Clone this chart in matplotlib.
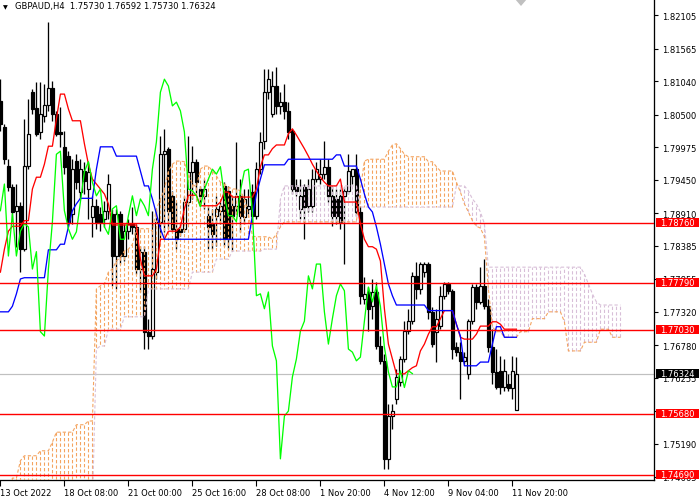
import matplotlib
matplotlib.use("Agg")
import matplotlib.pyplot as plt
import matplotlib.transforms as mtransforms
from matplotlib.patches import Rectangle, Polygon
from matplotlib.collections import LineCollection

# GBPAUD H4 candles (bar 0 = left edge of the chart)
opens = [1.8072, 1.8030, 1.7967, 1.7933, 1.7895, 1.7903, 1.7833, 1.7967, 1.8086, 1.8061,
         1.8022, 1.8048, 1.8065, 1.8093, 1.8051, 1.8022, 1.7998, 1.7983, 1.7890, 1.7975,
         1.7925, 1.7959, 1.7930, 1.7885, 1.7903, 1.7890, 1.7882, 1.7895, 1.7890, 1.7822,
         1.7890, 1.7822, 1.7862, 1.7874, 1.7869, 1.7801, 1.7829, 1.7700, 1.7693, 1.7796,
         1.7877, 1.7986, 1.7995, 1.7919, 1.7866, 1.7866, 1.7866, 1.7909, 1.7958, 1.7974,
         1.7930, 1.7919, 1.7887, 1.7874, 1.7887, 1.7895, 1.7935, 1.7927, 1.7903, 1.7903,
         1.7919, 1.7885, 1.7898, 1.7925, 1.7887, 1.7962, 1.8007, 1.8086, 1.8051, 1.8096,
         1.8064, 1.8070, 1.8056, 1.8024, 1.7933, 1.7898, 1.7933, 1.7903, 1.7903, 1.7946,
         1.7946, 1.7954, 1.7966, 1.7919, 1.7914, 1.7919, 1.7919, 1.7927, 1.7951, 1.7962,
         1.7893, 1.7753, 1.7764, 1.7741, 1.7764, 1.7677, 1.7653, 1.7495, 1.7564, 1.7592,
         1.7619, 1.7656, 1.7701, 1.7717, 1.7790, 1.7769, 1.7796, 1.7809, 1.7732, 1.7700,
         1.7709, 1.7758, 1.7777, 1.7766, 1.7675, 1.7667, 1.7653, 1.7632, 1.7717, 1.7772,
         1.7748, 1.7774, 1.7741, 1.7675, 1.7635, 1.7637, 1.7611, 1.7616, 1.7610, 1.75730]
highs = [1.8107, 1.8035, 1.7978, 1.7938, 1.7938, 1.7909, 1.8043, 1.8075, 1.8091, 1.8103,
         1.8103, 1.8099, 1.8199, 1.8104, 1.8056, 1.8062, 1.8024, 1.7991, 1.7978, 1.7986,
         1.7978, 1.7974, 1.7974, 1.7919, 1.7914, 1.7901, 1.7911, 1.7954, 1.7898, 1.7898,
         1.7895, 1.7874, 1.7882, 1.7901, 1.7874, 1.7838, 1.7838, 1.7721, 1.7895, 1.7898,
         1.8015, 1.8027, 1.7998, 1.7927, 1.7909, 1.7874, 1.7919, 1.8015, 1.7999, 1.7978,
         1.7935, 1.7946, 1.7903, 1.7898, 1.7919, 1.7909, 1.7941, 1.7935, 1.7919, 1.8006,
         1.7946, 1.7930, 1.7930, 1.7938, 1.7974, 1.8022, 1.8124, 1.8124, 1.8120, 1.8127,
         1.8086, 1.8099, 1.8070, 1.8027, 1.7946, 1.7946, 1.7938, 1.7946, 1.7962, 1.7974,
         1.7978, 1.8007, 1.7978, 1.7935, 1.7930, 1.7930, 1.7933, 1.7986, 1.7962, 1.7986,
         1.7903, 1.7788, 1.7772, 1.7785, 1.7780, 1.7693, 1.7664, 1.7583, 1.7583, 1.7640,
         1.7661, 1.7717, 1.7737, 1.7796, 1.7812, 1.7812, 1.7812, 1.7812, 1.7740, 1.7737,
         1.7774, 1.7780, 1.7780, 1.7769, 1.7683, 1.7683, 1.7667, 1.7721, 1.7777, 1.7777,
         1.7804, 1.7817, 1.7753, 1.7704, 1.7672, 1.7661, 1.7656, 1.7632, 1.7661, 1.76592]
lows = [1.8024, 1.7970, 1.7927, 1.7879, 1.7837, 1.7796, 1.7830, 1.7962, 1.8051, 1.8015,
        1.8011, 1.8038, 1.8056, 1.8040, 1.8015, 1.7998, 1.7954, 1.7869, 1.7874, 1.7930,
        1.7914, 1.7922, 1.7882, 1.7853, 1.7866, 1.7862, 1.7869, 1.7882, 1.7774, 1.7769,
        1.7809, 1.7814, 1.7849, 1.7857, 1.7793, 1.7764, 1.7672, 1.7672, 1.7688, 1.7785,
        1.7849, 1.7861, 1.7866, 1.7861, 1.7833, 1.7854, 1.7861, 1.7903, 1.7914, 1.7922,
        1.7906, 1.7898, 1.7833, 1.7833, 1.7838, 1.7874, 1.7838, 1.7833, 1.7830, 1.7890,
        1.7861, 1.7874, 1.7890, 1.7874, 1.7882, 1.7954, 1.7995, 1.8075, 1.8046, 1.8051,
        1.8051, 1.8043, 1.8011, 1.7922, 1.7919, 1.7882, 1.7849, 1.7893, 1.7893, 1.7941,
        1.7938, 1.7946, 1.7909, 1.7870, 1.7874, 1.7866, 1.7809, 1.7922, 1.7938, 1.7887,
        1.7745, 1.7745, 1.7701, 1.7721, 1.7672, 1.7648, 1.7479, 1.7479, 1.7543, 1.7583,
        1.7612, 1.7651, 1.7696, 1.7712, 1.7753, 1.7761, 1.7788, 1.7721, 1.7675, 1.7651,
        1.7704, 1.7753, 1.7761, 1.7656, 1.7661, 1.7592, 1.7648, 1.7624, 1.7712, 1.7737,
        1.7745, 1.7737, 1.7668, 1.7616, 1.7608, 1.7600, 1.7604, 1.7604, 1.7592, 1.75730]
closes = [1.8035, 1.7978, 1.7933, 1.7893, 1.7903, 1.7833, 1.7967, 1.8019, 1.8059, 1.8019,
          1.8051, 1.8065, 1.8093, 1.8051, 1.8019, 1.8019, 1.7966, 1.7877, 1.7962, 1.7941,
          1.7962, 1.7943, 1.7958, 1.7903, 1.7877, 1.7877, 1.7895, 1.7938, 1.7822, 1.7890,
          1.7822, 1.7862, 1.7874, 1.7869, 1.7801, 1.7829, 1.7700, 1.7693, 1.7801, 1.7877,
          1.7986, 1.7991, 1.7895, 1.7866, 1.7849, 1.7861, 1.7909, 1.7958, 1.7974, 1.7941,
          1.7919, 1.7930, 1.7869, 1.7857, 1.7898, 1.7903, 1.7849, 1.7849, 1.7887, 1.7919,
          1.7887, 1.7914, 1.7903, 1.7887, 1.7962, 1.8006, 1.8086, 1.8107, 1.8096, 1.8064,
          1.8070, 1.8056, 1.8022, 1.7930, 1.7927, 1.7919, 1.7901, 1.7930, 1.7946, 1.7962,
          1.7954, 1.7966, 1.7919, 1.7887, 1.7887, 1.7877, 1.7927, 1.7959, 1.7962, 1.7893,
          1.7758, 1.7761, 1.7737, 1.7764, 1.7677, 1.7653, 1.7495, 1.7564, 1.7572, 1.7627,
          1.7656, 1.7701, 1.7717, 1.7790, 1.7769, 1.7809, 1.7809, 1.7732, 1.7680, 1.7721,
          1.7758, 1.7777, 1.7766, 1.7672, 1.7667, 1.7653, 1.7659, 1.7717, 1.7772, 1.7748,
          1.7774, 1.7741, 1.7675, 1.7635, 1.7611, 1.7611, 1.7637, 1.7610, 1.7637, 1.76324]

# Ichimoku lines as shown on the chart
tenkan = [1.7796, 1.7833, 1.7862, 1.7870, 1.7870, 1.7870, 1.7879, 1.7879, 1.7930, 1.7949,
          1.7949, 1.7970, 1.7999, 1.7999, 1.8043, 1.8083, 1.8083, 1.8059, 1.8040, 1.8040,
          1.8040, 1.8003, 1.7970, 1.7946, 1.7938, 1.7930, 1.7922, 1.7906, 1.7872, 1.7872,
          1.7872, 1.7872, 1.7872, 1.7872, 1.7872, 1.7817, 1.7790, 1.7790, 1.7790, 1.7801,
          1.7849, 1.7849, 1.7862, 1.7862, 1.7862, 1.7869, 1.7898, 1.7920, 1.7920, 1.7920,
          1.7903, 1.7903, 1.7903, 1.7903, 1.7903, 1.7909, 1.7925, 1.7925, 1.7917, 1.7917,
          1.7917, 1.7917, 1.7917, 1.7917, 1.7930, 1.7966, 1.7985, 1.7985, 1.7995, 1.8001,
          1.8001, 1.8001, 1.8019, 1.8027, 1.8017, 1.8006, 1.7995, 1.7983, 1.7970, 1.7959,
          1.7949, 1.7941, 1.7935, 1.7935, 1.7935, 1.7946, 1.7909, 1.7909, 1.7909, 1.7909,
          1.7874, 1.7849, 1.7837, 1.7837, 1.7833, 1.7814, 1.7737, 1.7680, 1.7656, 1.7632,
          1.7632, 1.7632, 1.7637, 1.7642, 1.7645, 1.7669, 1.7680, 1.7696, 1.7708, 1.7708,
          1.7721, 1.7734, 1.7734, 1.7734, 1.7712, 1.7691, 1.7688, 1.7688, 1.7688, 1.7696,
          1.7709, 1.7709, 1.7709, 1.7716, 1.7716, 1.7712, 1.7704, 1.7704, 1.7704, 1.7704]
kijun = [1.7732, 1.7732, 1.7732, 1.7741, 1.7761, 1.7785, 1.7787, 1.7787, 1.7787, 1.7787,
         1.7787, 1.7787, 1.7832, 1.7832, 1.7832, 1.7841, 1.7841, 1.7869, 1.7895, 1.7906,
         1.7915, 1.7915, 1.7915, 1.7915, 1.7962, 1.7998, 1.7998, 1.7998, 1.7998, 1.7983,
         1.7983, 1.7983, 1.7983, 1.7983, 1.7983, 1.7959, 1.7935, 1.7935, 1.7914, 1.7890,
         1.7866, 1.7849, 1.7849, 1.7849, 1.7849, 1.7849, 1.7849, 1.7849, 1.7849, 1.7849,
         1.7849, 1.7849, 1.7849, 1.7849, 1.7849, 1.7849, 1.7849, 1.7849, 1.7849, 1.7849,
         1.7849, 1.7849, 1.7849, 1.7887, 1.7922, 1.7946, 1.7969, 1.7969, 1.7969, 1.7969,
         1.7969, 1.7969, 1.7978, 1.7978, 1.7978, 1.7978, 1.7978, 1.7978, 1.7978, 1.7978,
         1.7978, 1.7978, 1.7978, 1.7978, 1.7985, 1.7985, 1.7967, 1.7967, 1.7967, 1.7967,
         1.7946, 1.7922, 1.7901, 1.7893, 1.7869, 1.7841, 1.7809, 1.7777, 1.7758, 1.7743,
         1.7743, 1.7743, 1.7743, 1.7743, 1.7743, 1.7743, 1.7743, 1.7734, 1.7734, 1.7734,
         1.7734, 1.7734, 1.7734, 1.7734, 1.7712, 1.7693, 1.7645, 1.7645, 1.7645, 1.7645,
         1.7651, 1.7651, 1.7651, 1.7680, 1.7708, 1.7708, 1.7691, 1.7691, 1.7691, 1.7691]
# senkou spans run 26 bars past the last candle
span_a = [1.7440, 1.7440, 1.7440, 1.7464, 1.7464, 1.7492, 1.7500, 1.7500, 1.7500, 1.7500,
          1.7508, 1.7508, 1.7508, 1.7522, 1.7538, 1.7538, 1.7538, 1.7538, 1.7538, 1.7550,
          1.7550, 1.7550, 1.7556, 1.7556, 1.7769, 1.7774, 1.7777, 1.7796, 1.7801, 1.7814,
          1.7820, 1.7830, 1.7833, 1.7841, 1.7866, 1.7866, 1.7866, 1.7866, 1.7862, 1.7898,
          1.7914, 1.7930, 1.7959, 1.7970, 1.7975, 1.7975, 1.7974, 1.7954, 1.7938, 1.7933,
          1.7962, 1.7967, 1.7967, 1.7959, 1.7951, 1.7941, 1.7938, 1.7933, 1.7930, 1.7930,
          1.7927, 1.7914, 1.7890, 1.7854, 1.7853, 1.7853, 1.7853, 1.7853, 1.7849, 1.7857,
          1.7869, 1.7877, 1.7877, 1.7877, 1.7877, 1.7877, 1.7877, 1.7877, 1.7877, 1.7877,
          1.7877, 1.7877, 1.7877, 1.7877, 1.7877, 1.7877, 1.7877, 1.7877, 1.7877, 1.7877,
          1.7930, 1.7975, 1.7978, 1.7978, 1.7978, 1.7978, 1.7978, 1.7991, 1.8001, 1.8003,
          1.7995, 1.7986, 1.7982, 1.7982, 1.7982, 1.7982, 1.7982, 1.7974, 1.7974, 1.7966,
          1.7959, 1.7959, 1.7959, 1.7959, 1.7941, 1.7925, 1.7906, 1.7893, 1.7879, 1.7870,
          1.7867, 1.7853, 1.7769, 1.7708, 1.7700, 1.7700, 1.7691, 1.7691, 1.7691, 1.7691,
          1.7700, 1.7700, 1.7700, 1.7721, 1.7721, 1.7721, 1.7721, 1.7732, 1.7732, 1.7732,
          1.7732, 1.7716, 1.7669, 1.7669, 1.7669, 1.7669, 1.7683, 1.7683, 1.7683, 1.7683,
          1.7704, 1.7704, 1.7704, 1.7691, 1.7691, 1.7691]
span_b = [1.7420, 1.7420, 1.7420, 1.7420, 1.7420, 1.7420, 1.7420, 1.7420, 1.7420, 1.7420,
          1.7420, 1.7420, 1.7420, 1.7420, 1.7420, 1.7420, 1.7420, 1.7420, 1.7420, 1.7420,
          1.7420, 1.7420, 1.7420, 1.7420, 1.7672, 1.7677, 1.7677, 1.7704, 1.7704, 1.7704,
          1.7704, 1.7724, 1.7724, 1.7724, 1.7724, 1.7724, 1.7724, 1.7769, 1.7769, 1.7769,
          1.7769, 1.7769, 1.7769, 1.7769, 1.7769, 1.7769, 1.7769, 1.7769, 1.7796, 1.7796,
          1.7796, 1.7796, 1.7796, 1.7796, 1.7817, 1.7817, 1.7817, 1.7817, 1.7830, 1.7830,
          1.7830, 1.7830, 1.7830, 1.7830, 1.7830, 1.7830, 1.7833, 1.7833, 1.7833, 1.7833,
          1.7914, 1.7935, 1.7935, 1.7935, 1.7935, 1.7935, 1.7935, 1.7935, 1.7935, 1.7935,
          1.7935, 1.7935, 1.7935, 1.7935, 1.7935, 1.7935, 1.7935, 1.7935, 1.7935, 1.7935,
          1.7901, 1.7901, 1.7901, 1.7901, 1.7901, 1.7901, 1.7901, 1.7901, 1.7901, 1.7901,
          1.7901, 1.7901, 1.7901, 1.7901, 1.7901, 1.7901, 1.7901, 1.7901, 1.7901, 1.7901,
          1.7901, 1.7901, 1.7901, 1.7901, 1.7935, 1.7935, 1.7935, 1.7927, 1.7914, 1.7906,
          1.7893, 1.7874, 1.7804, 1.7804, 1.7804, 1.7804, 1.7804, 1.7804, 1.7804, 1.7804,
          1.7804, 1.7804, 1.7804, 1.7804, 1.7804, 1.7804, 1.7804, 1.7804, 1.7804, 1.7804,
          1.7804, 1.7804, 1.7804, 1.7804, 1.7804, 1.7804, 1.7793, 1.7777, 1.7761, 1.7748,
          1.7743, 1.7743, 1.7743, 1.7743, 1.7743, 1.7743]
chikou_shift = 26

levels = [1.78760, 1.77790, 1.77030, 1.75680, 1.74690]
bid = 1.76324
price_ticks = [1.82105, 1.81565, 1.81040, 1.80500, 1.79975, 1.79450, 1.78910, 1.78385,
               1.77855, 1.77320, 1.76780, 1.76255, 1.75720, 1.75190, 1.74665]
time_labels = ["13 Oct 2022", "18 Oct 08:00", "21 Oct 00:00", "25 Oct 16:00", "28 Oct 08:00",
               "1 Nov 20:00", "4 Nov 12:00", "9 Nov 04:00", "11 Nov 20:00"]
title = "GBPAUD,H4  1.75730 1.76592 1.75730 1.76324"

W, H = 700, 502
px = 0.72  # one pixel in points
dot = (0, (3, 2))

fig = plt.figure(figsize=(W / 100, H / 100), dpi=100)
ax = fig.add_axes([0, 21 / H, 654 / W, 481 / H])
ax.set_xlim(-0.1, 163.4)
ax.set_ylim(1.74609, 1.82363)

n = len(closes)

# candles
for i in range(n):
    o, h, l, c = opens[i], highs[i], lows[i], closes[i]
    ax.vlines(i, l, h, color="black", lw=1.3 * px, zorder=2)
    if abs(c - o) < 0.00004:
        ax.hlines(o, i - 0.4, i + 0.4, color="black", lw=1.3 * px, zorder=3)
    else:
        ax.add_patch(Rectangle((i - 0.28, min(o, c)), 0.56, abs(c - o),
                               facecolor="white" if c > o else "black",
                               edgecolor="black", lw=1.2 * px, zorder=3))

# kumo: dotted verticals, colour by which span is on top
up_segs, dn_segs = [], []
for i in range(len(span_a)):
    seg = [(i, span_a[i]), (i, span_b[i])]
    if span_a[i] >= span_b[i]:
        up_segs.append(seg)
    else:
        dn_segs.append(seg)
ax.add_collection(LineCollection(up_segs, colors="#F4A460", linestyles=[dot], linewidths=1.1 * px, zorder=4))
ax.add_collection(LineCollection(dn_segs, colors="#D8BFD8", linestyles=[dot], linewidths=1.1 * px, zorder=4))
ax.plot(range(len(span_a)), span_a, color="#F4A460", ls=dot, lw=1.1 * px, zorder=4)
ax.plot(range(len(span_b)), span_b, color="#D8BFD8", ls=dot, lw=1.1 * px, zorder=4)

ax.plot(range(n), tenkan, color="#FF0000", lw=1.3 * px, zorder=5)
ax.plot(range(n), kijun, color="#0000FF", lw=1.3 * px, zorder=5)
ax.plot(range(n - chikou_shift), closes[chikou_shift:], color="#00FF00", lw=1.3 * px, zorder=5)

for lv in levels:
    ax.axhline(lv, color="#FF0000", lw=1.4 * px, zorder=6)
ax.axhline(bid, color="#C0C0C0", lw=1.2 * px, zorder=1)

# axes look like the terminal
for side in ["top", "left"]:
    ax.spines[side].set_visible(False)
for side in ["right", "bottom"]:
    ax.spines[side].set_color("black")
    ax.spines[side].set_linewidth(1.3 * px)

ax.yaxis.tick_right()
ax.set_yticks(price_ticks)
ax.set_yticklabels(["%.5f" % v for v in price_ticks])
ax.tick_params(axis="y", direction="out", length=3, width=0.8, pad=3, labelsize=6, colors="black")

ax.set_xticks(range(0, 16 * len(time_labels), 16))
ax.set_xticklabels(time_labels)
for lbl in ax.get_xticklabels():
    lbl.set_ha("left")
ax.tick_params(axis="x", direction="out", length=4, width=0.8, pad=2, labelsize=6, colors="black")

# price boxes on the right scale
trans = mtransforms.blended_transform_factory(ax.transAxes, ax.transData)
box_h = 9 * 0.0001612
box_x0 = 1 + 2 / 654
box_w = 43 / 654
for lv, fc in [(v, "#FF0000") for v in levels] + [(bid, "black")]:
    ax.add_patch(Rectangle((box_x0, lv - box_h / 2), box_w, box_h, transform=trans,
                           facecolor=fc, edgecolor="none", clip_on=False, zorder=10))
    ax.text(1 + 6 / 654, lv, "%.5f" % lv, transform=trans, color="white", fontsize=6,
            va="center", ha="left", zorder=11, clip_on=False)

# header and chart-shift marker
fig.text(3 / W, 1 - 7.5 / H, "\u25bc", fontsize=4.5, va="center", ha="left")
fig.text(15 / W, 1 - 7 / H, title, fontsize=6, va="center", ha="left")
fig.patches.append(Polygon([(515 / W, 1.0), (527 / W, 1.0), (521 / W, 1 - 7 / H)], closed=True,
                           transform=fig.transFigure, facecolor="#C0C0C0", edgecolor="none"))

fig.savefig("out.png", dpi=100)
